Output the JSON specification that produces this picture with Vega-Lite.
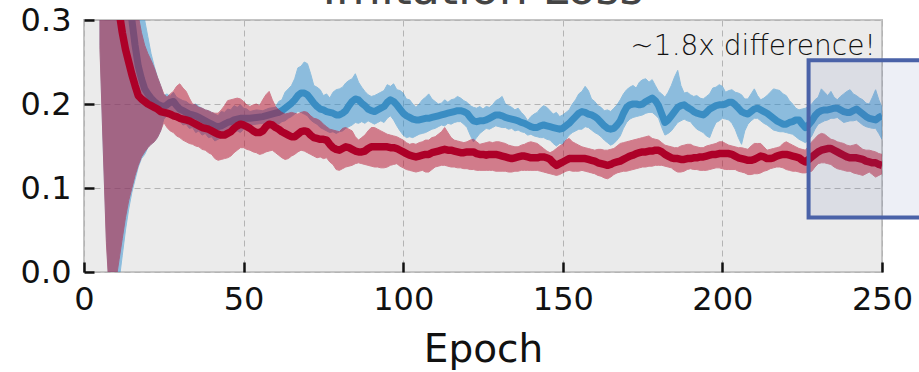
{
  "$schema": "https://vega.github.io/schema/vega-lite/v6.json",
  "autosize": {"type": "none"},
  "width": 798,
  "height": 252,
  "padding": {"left": 84, "top": 20, "right": 37, "bottom": 100},
  "background": "white",
  "config": {
    "view": {"fill": "#ebebeb", "stroke": "#c4c4c4", "strokeWidth": 2},
    "axis": {"labelFont": "DejaVu Sans", "labelFontSize": 32, "labelColor": "#111111", "labelFlush": false, "titleFont": "DejaVu Sans", "titleFontWeight": "normal", "titleColor": "#111111", "domain": false, "tickColor": "#111111", "tickWidth": 2.5, "tickSize": -10, "gridColor": "#b4b4b4", "gridDash": [6, 4], "gridWidth": 1}
  },
  "datasets": {
    "curves": [
      {"epoch":5,"s":"B","mean":0.60,"lo":0.27,"hi":0.95},{"epoch":6,"s":"B","mean":0.55,"lo":0.15,"hi":0.9},{"epoch":7,"s":"B","mean":0.50,"lo":0.04,"hi":0.9},{"epoch":8,"s":"B","mean":0.47,"lo":-0.03,"hi":0.9},{"epoch":9,"s":"B","mean":0.44,"lo":-0.05,"hi":0.88},{"epoch":10,"s":"B","mean":0.41,"lo":-0.04,"hi":0.85},{"epoch":11,"s":"B","mean":0.38,"lo":-0.01,"hi":0.8},{"epoch":12,"s":"B","mean":0.35,"lo":0.02,"hi":0.75},{"epoch":13,"s":"B","mean":0.33,"lo":0.05,"hi":0.65},{"epoch":14,"s":"B","mean":0.315,"lo":0.075,"hi":0.55},{"epoch":15,"s":"B","mean":0.30,"lo":0.095,"hi":0.45},{"epoch":16,"s":"B","mean":0.27,"lo":0.11,"hi":0.38},{"epoch":17,"s":"B","mean":0.245,"lo":0.125,"hi":0.33},{"epoch":18,"s":"B","mean":0.23,"lo":0.135,"hi":0.31},{"epoch":19,"s":"B","mean":0.218,"lo":0.14,"hi":0.30},{"epoch":20,"s":"B","mean":0.212,"lo":0.148,"hi":0.28},{"epoch":21,"s":"B","mean":0.207,"lo":0.152,"hi":0.26},{"epoch":22,"s":"B","mean":0.203,"lo":0.155,"hi":0.245},{"epoch":23,"s":"B","mean":0.200,"lo":0.16,"hi":0.232},{"epoch":24,"s":"B","mean":0.198,"lo":0.168,"hi":0.222},{"epoch":25,"s":"B","mean":0.197,"lo":0.182,"hi":0.21},{"epoch":26,"s":"B","mean":0.199,"lo":0.186,"hi":0.212},{"epoch":27,"s":"B","mean":0.202,"lo":0.191,"hi":0.209},{"epoch":28,"s":"B","mean":0.203,"lo":0.19,"hi":0.214},{"epoch":29,"s":"B","mean":0.198,"lo":0.183,"hi":0.208},{"epoch":30,"s":"B","mean":0.194,"lo":0.18,"hi":0.206},{"epoch":31,"s":"B","mean":0.192,"lo":0.175,"hi":0.204},{"epoch":32,"s":"B","mean":0.19,"lo":0.176,"hi":0.203},{"epoch":33,"s":"B","mean":0.188,"lo":0.171,"hi":0.2},{"epoch":34,"s":"B","mean":0.187,"lo":0.172,"hi":0.199},{"epoch":35,"s":"B","mean":0.186,"lo":0.166,"hi":0.2},{"epoch":36,"s":"B","mean":0.184,"lo":0.168,"hi":0.197},{"epoch":37,"s":"B","mean":0.182,"lo":0.163,"hi":0.195},{"epoch":38,"s":"B","mean":0.180,"lo":0.165,"hi":0.193},{"epoch":39,"s":"B","mean":0.178,"lo":0.16,"hi":0.192},{"epoch":40,"s":"B","mean":0.176,"lo":0.161,"hi":0.19},{"epoch":41,"s":"B","mean":0.174,"lo":0.156,"hi":0.188},{"epoch":42,"s":"B","mean":0.173,"lo":0.158,"hi":0.186},{"epoch":43,"s":"B","mean":0.174,"lo":0.16,"hi":0.191},{"epoch":44,"s":"B","mean":0.176,"lo":0.162,"hi":0.19},{"epoch":45,"s":"B","mean":0.178,"lo":0.161,"hi":0.194},{"epoch":46,"s":"B","mean":0.179,"lo":0.165,"hi":0.193},{"epoch":47,"s":"B","mean":0.181,"lo":0.166,"hi":0.198},{"epoch":48,"s":"B","mean":0.182,"lo":0.168,"hi":0.196},{"epoch":49,"s":"B","mean":0.183,"lo":0.166,"hi":0.199},{"epoch":50,"s":"B","mean":0.183,"lo":0.17,"hi":0.195},{"epoch":51,"s":"B","mean":0.183,"lo":0.172,"hi":0.194},{"epoch":52,"s":"B","mean":0.183,"lo":0.175,"hi":0.191},{"epoch":54,"s":"B","mean":0.184,"lo":0.176,"hi":0.193},{"epoch":56,"s":"B","mean":0.185,"lo":0.177,"hi":0.192},{"epoch":58,"s":"B","mean":0.187,"lo":0.178,"hi":0.195},{"epoch":60,"s":"B","mean":0.189,"lo":0.178,"hi":0.196},{"epoch":61,"s":"B","mean":0.19,"lo":0.176,"hi":0.203},{"epoch":62,"s":"B","mean":0.192,"lo":0.179,"hi":0.205},{"epoch":63,"s":"B","mean":0.195,"lo":0.18,"hi":0.214},{"epoch":64,"s":"B","mean":0.198,"lo":0.183,"hi":0.218},{"epoch":65,"s":"B","mean":0.201,"lo":0.185,"hi":0.222},{"epoch":66,"s":"B","mean":0.205,"lo":0.188,"hi":0.23},{"epoch":67,"s":"B","mean":0.21,"lo":0.191,"hi":0.243},{"epoch":68,"s":"B","mean":0.213,"lo":0.19,"hi":0.245},{"epoch":69,"s":"B","mean":0.213,"lo":0.188,"hi":0.25},{"epoch":70,"s":"B","mean":0.211,"lo":0.186,"hi":0.248},{"epoch":71,"s":"B","mean":0.206,"lo":0.181,"hi":0.236},{"epoch":72,"s":"B","mean":0.201,"lo":0.178,"hi":0.222},{"epoch":73,"s":"B","mean":0.197,"lo":0.176,"hi":0.22},{"epoch":74,"s":"B","mean":0.194,"lo":0.172,"hi":0.217},{"epoch":75,"s":"B","mean":0.193,"lo":0.17,"hi":0.21},{"epoch":76,"s":"B","mean":0.191,"lo":0.168,"hi":0.212},{"epoch":77,"s":"B","mean":0.19,"lo":0.166,"hi":0.207},{"epoch":78,"s":"B","mean":0.189,"lo":0.167,"hi":0.214},{"epoch":79,"s":"B","mean":0.187,"lo":0.165,"hi":0.217},{"epoch":80,"s":"B","mean":0.187,"lo":0.167,"hi":0.218},{"epoch":81,"s":"B","mean":0.189,"lo":0.168,"hi":0.22},{"epoch":82,"s":"B","mean":0.192,"lo":0.171,"hi":0.225},{"epoch":83,"s":"B","mean":0.198,"lo":0.173,"hi":0.228},{"epoch":84,"s":"B","mean":0.203,"lo":0.175,"hi":0.23},{"epoch":85,"s":"B","mean":0.206,"lo":0.178,"hi":0.236},{"epoch":86,"s":"B","mean":0.205,"lo":0.177,"hi":0.226},{"epoch":87,"s":"B","mean":0.201,"lo":0.179,"hi":0.22},{"epoch":88,"s":"B","mean":0.198,"lo":0.177,"hi":0.215},{"epoch":89,"s":"B","mean":0.194,"lo":0.18,"hi":0.211},{"epoch":90,"s":"B","mean":0.192,"lo":0.178,"hi":0.209},{"epoch":91,"s":"B","mean":0.191,"lo":0.176,"hi":0.21},{"epoch":92,"s":"B","mean":0.193,"lo":0.178,"hi":0.212},{"epoch":93,"s":"B","mean":0.195,"lo":0.18,"hi":0.214},{"epoch":94,"s":"B","mean":0.197,"lo":0.178,"hi":0.216},{"epoch":95,"s":"B","mean":0.202,"lo":0.183,"hi":0.223},{"epoch":96,"s":"B","mean":0.205,"lo":0.186,"hi":0.221},{"epoch":97,"s":"B","mean":0.203,"lo":0.181,"hi":0.224},{"epoch":98,"s":"B","mean":0.199,"lo":0.174,"hi":0.217},{"epoch":99,"s":"B","mean":0.194,"lo":0.168,"hi":0.216},{"epoch":100,"s":"B","mean":0.189,"lo":0.163,"hi":0.213},{"epoch":101,"s":"B","mean":0.186,"lo":0.16,"hi":0.206},{"epoch":102,"s":"B","mean":0.184,"lo":0.161,"hi":0.205},{"epoch":103,"s":"B","mean":0.182,"lo":0.16,"hi":0.2},{"epoch":104,"s":"B","mean":0.181,"lo":0.162,"hi":0.196},{"epoch":105,"s":"B","mean":0.181,"lo":0.164,"hi":0.2},{"epoch":106,"s":"B","mean":0.182,"lo":0.165,"hi":0.205},{"epoch":107,"s":"B","mean":0.183,"lo":0.166,"hi":0.208},{"epoch":108,"s":"B","mean":0.183,"lo":0.168,"hi":0.212},{"epoch":109,"s":"B","mean":0.184,"lo":0.17,"hi":0.206},{"epoch":110,"s":"B","mean":0.185,"lo":0.171,"hi":0.203},{"epoch":111,"s":"B","mean":0.186,"lo":0.173,"hi":0.2},{"epoch":112,"s":"B","mean":0.187,"lo":0.175,"hi":0.201},{"epoch":113,"s":"B","mean":0.188,"lo":0.174,"hi":0.205},{"epoch":114,"s":"B","mean":0.189,"lo":0.177,"hi":0.202},{"epoch":115,"s":"B","mean":0.19,"lo":0.176,"hi":0.205},{"epoch":116,"s":"B","mean":0.191,"lo":0.178,"hi":0.206},{"epoch":117,"s":"B","mean":0.192,"lo":0.179,"hi":0.209},{"epoch":118,"s":"B","mean":0.192,"lo":0.179,"hi":0.207},{"epoch":119,"s":"B","mean":0.191,"lo":0.176,"hi":0.204},{"epoch":120,"s":"B","mean":0.189,"lo":0.172,"hi":0.202},{"epoch":121,"s":"B","mean":0.184,"lo":0.163,"hi":0.198},{"epoch":122,"s":"B","mean":0.180,"lo":0.155,"hi":0.196},{"epoch":123,"s":"B","mean":0.179,"lo":0.16,"hi":0.195},{"epoch":124,"s":"B","mean":0.180,"lo":0.165,"hi":0.197},{"epoch":125,"s":"B","mean":0.18,"lo":0.168,"hi":0.194},{"epoch":126,"s":"B","mean":0.181,"lo":0.171,"hi":0.197},{"epoch":127,"s":"B","mean":0.183,"lo":0.17,"hi":0.196},{"epoch":128,"s":"B","mean":0.185,"lo":0.172,"hi":0.199},{"epoch":129,"s":"B","mean":0.187,"lo":0.174,"hi":0.204},{"epoch":130,"s":"B","mean":0.187,"lo":0.173,"hi":0.206},{"epoch":131,"s":"B","mean":0.186,"lo":0.172,"hi":0.209},{"epoch":132,"s":"B","mean":0.184,"lo":0.172,"hi":0.2},{"epoch":133,"s":"B","mean":0.183,"lo":0.17,"hi":0.198},{"epoch":134,"s":"B","mean":0.182,"lo":0.171,"hi":0.196},{"epoch":135,"s":"B","mean":0.181,"lo":0.168,"hi":0.193},{"epoch":136,"s":"B","mean":0.180,"lo":0.169,"hi":0.195},{"epoch":137,"s":"B","mean":0.178,"lo":0.167,"hi":0.19},{"epoch":138,"s":"B","mean":0.177,"lo":0.166,"hi":0.186},{"epoch":139,"s":"B","mean":0.175,"lo":0.163,"hi":0.18},{"epoch":140,"s":"B","mean":0.173,"lo":0.164,"hi":0.185},{"epoch":141,"s":"B","mean":0.172,"lo":0.162,"hi":0.188},{"epoch":142,"s":"B","mean":0.172,"lo":0.161,"hi":0.19},{"epoch":143,"s":"B","mean":0.174,"lo":0.16,"hi":0.195},{"epoch":144,"s":"B","mean":0.175,"lo":0.16,"hi":0.198},{"epoch":145,"s":"B","mean":0.174,"lo":0.158,"hi":0.196},{"epoch":146,"s":"B","mean":0.173,"lo":0.157,"hi":0.192},{"epoch":147,"s":"B","mean":0.172,"lo":0.153,"hi":0.188},{"epoch":148,"s":"B","mean":0.171,"lo":0.15,"hi":0.19},{"epoch":149,"s":"B","mean":0.17,"lo":0.153,"hi":0.185},{"epoch":150,"s":"B","mean":0.171,"lo":0.152,"hi":0.187},{"epoch":151,"s":"B","mean":0.174,"lo":0.158,"hi":0.19},{"epoch":152,"s":"B","mean":0.177,"lo":0.163,"hi":0.193},{"epoch":153,"s":"B","mean":0.181,"lo":0.166,"hi":0.2},{"epoch":154,"s":"B","mean":0.185,"lo":0.168,"hi":0.205},{"epoch":155,"s":"B","mean":0.189,"lo":0.17,"hi":0.212},{"epoch":156,"s":"B","mean":0.191,"lo":0.17,"hi":0.215},{"epoch":157,"s":"B","mean":0.19,"lo":0.173,"hi":0.221},{"epoch":158,"s":"B","mean":0.188,"lo":0.172,"hi":0.216},{"epoch":159,"s":"B","mean":0.187,"lo":0.169,"hi":0.206},{"epoch":160,"s":"B","mean":0.185,"lo":0.166,"hi":0.203},{"epoch":161,"s":"B","mean":0.182,"lo":0.164,"hi":0.198},{"epoch":162,"s":"B","mean":0.178,"lo":0.161,"hi":0.196},{"epoch":163,"s":"B","mean":0.174,"lo":0.157,"hi":0.192},{"epoch":164,"s":"B","mean":0.171,"lo":0.154,"hi":0.193},{"epoch":165,"s":"B","mean":0.17,"lo":0.151,"hi":0.191},{"epoch":166,"s":"B","mean":0.171,"lo":0.153,"hi":0.195},{"epoch":167,"s":"B","mean":0.175,"lo":0.157,"hi":0.199},{"epoch":168,"s":"B","mean":0.180,"lo":0.162,"hi":0.205},{"epoch":169,"s":"B","mean":0.189,"lo":0.171,"hi":0.212},{"epoch":170,"s":"B","mean":0.196,"lo":0.178,"hi":0.217},{"epoch":171,"s":"B","mean":0.199,"lo":0.182,"hi":0.22},{"epoch":172,"s":"B","mean":0.200,"lo":0.184,"hi":0.222},{"epoch":173,"s":"B","mean":0.2,"lo":0.185,"hi":0.219},{"epoch":174,"s":"B","mean":0.199,"lo":0.186,"hi":0.226},{"epoch":175,"s":"B","mean":0.2,"lo":0.187,"hi":0.229},{"epoch":176,"s":"B","mean":0.203,"lo":0.189,"hi":0.23},{"epoch":177,"s":"B","mean":0.205,"lo":0.19,"hi":0.226},{"epoch":178,"s":"B","mean":0.207,"lo":0.19,"hi":0.229},{"epoch":179,"s":"B","mean":0.204,"lo":0.187,"hi":0.222},{"epoch":180,"s":"B","mean":0.198,"lo":0.183,"hi":0.215},{"epoch":181,"s":"B","mean":0.188,"lo":0.172,"hi":0.212},{"epoch":182,"s":"B","mean":0.178,"lo":0.163,"hi":0.208},{"epoch":183,"s":"B","mean":0.181,"lo":0.165,"hi":0.214},{"epoch":184,"s":"B","mean":0.186,"lo":0.168,"hi":0.222},{"epoch":185,"s":"B","mean":0.191,"lo":0.173,"hi":0.232},{"epoch":186,"s":"B","mean":0.196,"lo":0.178,"hi":0.24},{"epoch":187,"s":"B","mean":0.198,"lo":0.18,"hi":0.222},{"epoch":188,"s":"B","mean":0.199,"lo":0.182,"hi":0.213},{"epoch":189,"s":"B","mean":0.196,"lo":0.18,"hi":0.214},{"epoch":190,"s":"B","mean":0.194,"lo":0.179,"hi":0.211},{"epoch":191,"s":"B","mean":0.191,"lo":0.174,"hi":0.209},{"epoch":192,"s":"B","mean":0.189,"lo":0.17,"hi":0.21},{"epoch":193,"s":"B","mean":0.188,"lo":0.168,"hi":0.207},{"epoch":194,"s":"B","mean":0.187,"lo":0.166,"hi":0.206},{"epoch":195,"s":"B","mean":0.19,"lo":0.162,"hi":0.209},{"epoch":196,"s":"B","mean":0.194,"lo":0.16,"hi":0.212},{"epoch":197,"s":"B","mean":0.196,"lo":0.17,"hi":0.219},{"epoch":198,"s":"B","mean":0.198,"lo":0.178,"hi":0.22},{"epoch":199,"s":"B","mean":0.199,"lo":0.18,"hi":0.223},{"epoch":200,"s":"B","mean":0.199,"lo":0.183,"hi":0.221},{"epoch":201,"s":"B","mean":0.2,"lo":0.182,"hi":0.214},{"epoch":202,"s":"B","mean":0.202,"lo":0.181,"hi":0.216},{"epoch":203,"s":"B","mean":0.202,"lo":0.177,"hi":0.217},{"epoch":204,"s":"B","mean":0.199,"lo":0.17,"hi":0.214},{"epoch":205,"s":"B","mean":0.195,"lo":0.16,"hi":0.213},{"epoch":206,"s":"B","mean":0.191,"lo":0.152,"hi":0.211},{"epoch":207,"s":"B","mean":0.189,"lo":0.168,"hi":0.206},{"epoch":208,"s":"B","mean":0.188,"lo":0.176,"hi":0.206},{"epoch":209,"s":"B","mean":0.191,"lo":0.18,"hi":0.212},{"epoch":210,"s":"B","mean":0.194,"lo":0.183,"hi":0.218},{"epoch":211,"s":"B","mean":0.195,"lo":0.183,"hi":0.21},{"epoch":212,"s":"B","mean":0.193,"lo":0.18,"hi":0.205},{"epoch":213,"s":"B","mean":0.191,"lo":0.177,"hi":0.207},{"epoch":214,"s":"B","mean":0.189,"lo":0.175,"hi":0.21},{"epoch":215,"s":"B","mean":0.186,"lo":0.172,"hi":0.214},{"epoch":216,"s":"B","mean":0.183,"lo":0.169,"hi":0.218},{"epoch":217,"s":"B","mean":0.18,"lo":0.168,"hi":0.217},{"epoch":218,"s":"B","mean":0.178,"lo":0.167,"hi":0.216},{"epoch":219,"s":"B","mean":0.176,"lo":0.167,"hi":0.212},{"epoch":220,"s":"B","mean":0.176,"lo":0.166,"hi":0.21},{"epoch":221,"s":"B","mean":0.178,"lo":0.165,"hi":0.204},{"epoch":222,"s":"B","mean":0.179,"lo":0.164,"hi":0.2},{"epoch":223,"s":"B","mean":0.181,"lo":0.161,"hi":0.195},{"epoch":224,"s":"B","mean":0.181,"lo":0.158,"hi":0.193},{"epoch":225,"s":"B","mean":0.176,"lo":0.156,"hi":0.194},{"epoch":226,"s":"B","mean":0.172,"lo":0.154,"hi":0.195},{"epoch":227,"s":"B","mean":0.175,"lo":0.157,"hi":0.197},{"epoch":228,"s":"B","mean":0.180,"lo":0.162,"hi":0.2},{"epoch":229,"s":"B","mean":0.186,"lo":0.17,"hi":0.205},{"epoch":230,"s":"B","mean":0.190,"lo":0.176,"hi":0.208},{"epoch":231,"s":"B","mean":0.192,"lo":0.178,"hi":0.218},{"epoch":232,"s":"B","mean":0.193,"lo":0.18,"hi":0.214},{"epoch":233,"s":"B","mean":0.193,"lo":0.181,"hi":0.21},{"epoch":234,"s":"B","mean":0.194,"lo":0.183,"hi":0.215},{"epoch":235,"s":"B","mean":0.195,"lo":0.183,"hi":0.208},{"epoch":236,"s":"B","mean":0.195,"lo":0.184,"hi":0.205},{"epoch":237,"s":"B","mean":0.193,"lo":0.181,"hi":0.209},{"epoch":238,"s":"B","mean":0.191,"lo":0.178,"hi":0.212},{"epoch":239,"s":"B","mean":0.19,"lo":0.179,"hi":0.215},{"epoch":240,"s":"B","mean":0.190,"lo":0.18,"hi":0.217},{"epoch":241,"s":"B","mean":0.192,"lo":0.18,"hi":0.212},{"epoch":242,"s":"B","mean":0.194,"lo":0.181,"hi":0.21},{"epoch":243,"s":"B","mean":0.191,"lo":0.178,"hi":0.207},{"epoch":244,"s":"B","mean":0.188,"lo":0.175,"hi":0.205},{"epoch":245,"s":"B","mean":0.185,"lo":0.173,"hi":0.201},{"epoch":246,"s":"B","mean":0.183,"lo":0.172,"hi":0.2},{"epoch":247,"s":"B","mean":0.182,"lo":0.171,"hi":0.208},{"epoch":248,"s":"B","mean":0.181,"lo":0.171,"hi":0.217},{"epoch":249,"s":"B","mean":0.184,"lo":0.165,"hi":0.205},{"epoch":250,"s":"B","mean":0.186,"lo":0.158,"hi":0.196},
      {"epoch":5,"s":"R","mean":0.60,"lo":0.265,"hi":0.95},{"epoch":6,"s":"R","mean":0.55,"lo":0.15,"hi":0.9},{"epoch":7,"s":"R","mean":0.50,"lo":0.035,"hi":0.9},{"epoch":8,"s":"R","mean":0.45,"lo":-0.03,"hi":0.9},{"epoch":9,"s":"R","mean":0.40,"lo":-0.04,"hi":0.85},{"epoch":10,"s":"R","mean":0.35,"lo":-0.01,"hi":0.8},{"epoch":11,"s":"R","mean":0.31,"lo":0.015,"hi":0.7},{"epoch":12,"s":"R","mean":0.285,"lo":0.04,"hi":0.6},{"epoch":13,"s":"R","mean":0.265,"lo":0.065,"hi":0.5},{"epoch":14,"s":"R","mean":0.25,"lo":0.085,"hi":0.42},{"epoch":15,"s":"R","mean":0.235,"lo":0.1,"hi":0.37},{"epoch":16,"s":"R","mean":0.222,"lo":0.115,"hi":0.33},{"epoch":17,"s":"R","mean":0.21,"lo":0.127,"hi":0.305},{"epoch":18,"s":"R","mean":0.206,"lo":0.137,"hi":0.285},{"epoch":19,"s":"R","mean":0.203,"lo":0.143,"hi":0.27},{"epoch":20,"s":"R","mean":0.200,"lo":0.148,"hi":0.26},{"epoch":21,"s":"R","mean":0.198,"lo":0.152,"hi":0.252},{"epoch":22,"s":"R","mean":0.196,"lo":0.155,"hi":0.243},{"epoch":23,"s":"R","mean":0.194,"lo":0.16,"hi":0.232},{"epoch":24,"s":"R","mean":0.191,"lo":0.168,"hi":0.222},{"epoch":25,"s":"R","mean":0.190,"lo":0.178,"hi":0.212},{"epoch":26,"s":"R","mean":0.189,"lo":0.172,"hi":0.208},{"epoch":27,"s":"R","mean":0.188,"lo":0.168,"hi":0.212},{"epoch":28,"s":"R","mean":0.186,"lo":0.166,"hi":0.215},{"epoch":29,"s":"R","mean":0.185,"lo":0.162,"hi":0.221},{"epoch":30,"s":"R","mean":0.183,"lo":0.16,"hi":0.224},{"epoch":31,"s":"R","mean":0.182,"lo":0.157,"hi":0.219},{"epoch":32,"s":"R","mean":0.181,"lo":0.155,"hi":0.215},{"epoch":33,"s":"R","mean":0.18,"lo":0.153,"hi":0.207},{"epoch":34,"s":"R","mean":0.178,"lo":0.152,"hi":0.2},{"epoch":35,"s":"R","mean":0.176,"lo":0.15,"hi":0.199},{"epoch":36,"s":"R","mean":0.174,"lo":0.149,"hi":0.196},{"epoch":37,"s":"R","mean":0.172,"lo":0.146,"hi":0.195},{"epoch":38,"s":"R","mean":0.171,"lo":0.145,"hi":0.193},{"epoch":39,"s":"R","mean":0.17,"lo":0.142,"hi":0.192},{"epoch":40,"s":"R","mean":0.168,"lo":0.14,"hi":0.19},{"epoch":41,"s":"R","mean":0.166,"lo":0.135,"hi":0.189},{"epoch":42,"s":"R","mean":0.164,"lo":0.133,"hi":0.189},{"epoch":43,"s":"R","mean":0.163,"lo":0.134,"hi":0.193},{"epoch":44,"s":"R","mean":0.163,"lo":0.135,"hi":0.198},{"epoch":45,"s":"R","mean":0.165,"lo":0.136,"hi":0.204},{"epoch":46,"s":"R","mean":0.167,"lo":0.138,"hi":0.205},{"epoch":47,"s":"R","mean":0.171,"lo":0.142,"hi":0.206},{"epoch":48,"s":"R","mean":0.174,"lo":0.145,"hi":0.207},{"epoch":49,"s":"R","mean":0.176,"lo":0.148,"hi":0.206},{"epoch":50,"s":"R","mean":0.175,"lo":0.148,"hi":0.203},{"epoch":51,"s":"R","mean":0.173,"lo":0.146,"hi":0.199},{"epoch":52,"s":"R","mean":0.171,"lo":0.145,"hi":0.197},{"epoch":53,"s":"R","mean":0.168,"lo":0.143,"hi":0.199},{"epoch":54,"s":"R","mean":0.166,"lo":0.142,"hi":0.2},{"epoch":55,"s":"R","mean":0.166,"lo":0.14,"hi":0.198},{"epoch":56,"s":"R","mean":0.168,"lo":0.141,"hi":0.205},{"epoch":57,"s":"R","mean":0.173,"lo":0.143,"hi":0.211},{"epoch":58,"s":"R","mean":0.176,"lo":0.144,"hi":0.215},{"epoch":59,"s":"R","mean":0.175,"lo":0.145,"hi":0.205},{"epoch":60,"s":"R","mean":0.172,"lo":0.142,"hi":0.197},{"epoch":61,"s":"R","mean":0.17,"lo":0.139,"hi":0.193},{"epoch":62,"s":"R","mean":0.167,"lo":0.136,"hi":0.19},{"epoch":63,"s":"R","mean":0.165,"lo":0.134,"hi":0.188},{"epoch":64,"s":"R","mean":0.163,"lo":0.135,"hi":0.189},{"epoch":65,"s":"R","mean":0.161,"lo":0.138,"hi":0.19},{"epoch":66,"s":"R","mean":0.161,"lo":0.14,"hi":0.189},{"epoch":67,"s":"R","mean":0.164,"lo":0.143,"hi":0.188},{"epoch":68,"s":"R","mean":0.167,"lo":0.145,"hi":0.19},{"epoch":69,"s":"R","mean":0.168,"lo":0.144,"hi":0.191},{"epoch":70,"s":"R","mean":0.167,"lo":0.142,"hi":0.19},{"epoch":71,"s":"R","mean":0.163,"lo":0.14,"hi":0.186},{"epoch":72,"s":"R","mean":0.160,"lo":0.138,"hi":0.183},{"epoch":73,"s":"R","mean":0.159,"lo":0.136,"hi":0.182},{"epoch":74,"s":"R","mean":0.158,"lo":0.137,"hi":0.18},{"epoch":75,"s":"R","mean":0.158,"lo":0.135,"hi":0.176},{"epoch":76,"s":"R","mean":0.157,"lo":0.136,"hi":0.173},{"epoch":77,"s":"R","mean":0.152,"lo":0.131,"hi":0.17},{"epoch":78,"s":"R","mean":0.148,"lo":0.128,"hi":0.169},{"epoch":79,"s":"R","mean":0.146,"lo":0.122,"hi":0.168},{"epoch":80,"s":"R","mean":0.145,"lo":0.121,"hi":0.167},{"epoch":81,"s":"R","mean":0.147,"lo":0.123,"hi":0.171},{"epoch":82,"s":"R","mean":0.149,"lo":0.125,"hi":0.172},{"epoch":83,"s":"R","mean":0.148,"lo":0.126,"hi":0.17},{"epoch":84,"s":"R","mean":0.146,"lo":0.127,"hi":0.168},{"epoch":85,"s":"R","mean":0.144,"lo":0.129,"hi":0.161},{"epoch":86,"s":"R","mean":0.143,"lo":0.13,"hi":0.157},{"epoch":87,"s":"R","mean":0.143,"lo":0.129,"hi":0.16},{"epoch":88,"s":"R","mean":0.144,"lo":0.128,"hi":0.163},{"epoch":89,"s":"R","mean":0.147,"lo":0.127,"hi":0.168},{"epoch":90,"s":"R","mean":0.149,"lo":0.126,"hi":0.172},{"epoch":91,"s":"R","mean":0.149,"lo":0.125,"hi":0.172},{"epoch":92,"s":"R","mean":0.149,"lo":0.125,"hi":0.17},{"epoch":93,"s":"R","mean":0.149,"lo":0.124,"hi":0.168},{"epoch":94,"s":"R","mean":0.149,"lo":0.124,"hi":0.166},{"epoch":95,"s":"R","mean":0.149,"lo":0.125,"hi":0.164},{"epoch":96,"s":"R","mean":0.148,"lo":0.127,"hi":0.163},{"epoch":97,"s":"R","mean":0.148,"lo":0.128,"hi":0.162},{"epoch":98,"s":"R","mean":0.147,"lo":0.129,"hi":0.161},{"epoch":99,"s":"R","mean":0.145,"lo":0.126,"hi":0.159},{"epoch":100,"s":"R","mean":0.143,"lo":0.124,"hi":0.157},{"epoch":101,"s":"R","mean":0.141,"lo":0.122,"hi":0.154},{"epoch":102,"s":"R","mean":0.139,"lo":0.121,"hi":0.152},{"epoch":103,"s":"R","mean":0.138,"lo":0.12,"hi":0.153},{"epoch":104,"s":"R","mean":0.137,"lo":0.119,"hi":0.152},{"epoch":105,"s":"R","mean":0.138,"lo":0.12,"hi":0.154},{"epoch":106,"s":"R","mean":0.139,"lo":0.121,"hi":0.155},{"epoch":107,"s":"R","mean":0.14,"lo":0.119,"hi":0.157},{"epoch":108,"s":"R","mean":0.140,"lo":0.119,"hi":0.157},{"epoch":109,"s":"R","mean":0.142,"lo":0.122,"hi":0.16},{"epoch":110,"s":"R","mean":0.143,"lo":0.125,"hi":0.161},{"epoch":111,"s":"R","mean":0.144,"lo":0.126,"hi":0.164},{"epoch":112,"s":"R","mean":0.145,"lo":0.127,"hi":0.167},{"epoch":113,"s":"R","mean":0.146,"lo":0.127,"hi":0.172},{"epoch":114,"s":"R","mean":0.145,"lo":0.126,"hi":0.166},{"epoch":115,"s":"R","mean":0.145,"lo":0.125,"hi":0.16},{"epoch":116,"s":"R","mean":0.144,"lo":0.125,"hi":0.157},{"epoch":117,"s":"R","mean":0.143,"lo":0.124,"hi":0.156},{"epoch":118,"s":"R","mean":0.142,"lo":0.124,"hi":0.155},{"epoch":119,"s":"R","mean":0.142,"lo":0.123,"hi":0.154},{"epoch":120,"s":"R","mean":0.143,"lo":0.123,"hi":0.155},{"epoch":121,"s":"R","mean":0.143,"lo":0.122,"hi":0.157},{"epoch":122,"s":"R","mean":0.143,"lo":0.122,"hi":0.158},{"epoch":123,"s":"R","mean":0.141,"lo":0.121,"hi":0.155},{"epoch":124,"s":"R","mean":0.140,"lo":0.121,"hi":0.152},{"epoch":125,"s":"R","mean":0.14,"lo":0.121,"hi":0.153},{"epoch":126,"s":"R","mean":0.139,"lo":0.121,"hi":0.154},{"epoch":127,"s":"R","mean":0.14,"lo":0.121,"hi":0.155},{"epoch":128,"s":"R","mean":0.140,"lo":0.121,"hi":0.154},{"epoch":129,"s":"R","mean":0.14,"lo":0.12,"hi":0.155},{"epoch":130,"s":"R","mean":0.139,"lo":0.12,"hi":0.155},{"epoch":131,"s":"R","mean":0.138,"lo":0.12,"hi":0.154},{"epoch":132,"s":"R","mean":0.137,"lo":0.12,"hi":0.153},{"epoch":133,"s":"R","mean":0.136,"lo":0.119,"hi":0.151},{"epoch":134,"s":"R","mean":0.135,"lo":0.119,"hi":0.15},{"epoch":135,"s":"R","mean":0.136,"lo":0.12,"hi":0.149},{"epoch":136,"s":"R","mean":0.137,"lo":0.12,"hi":0.149},{"epoch":137,"s":"R","mean":0.138,"lo":0.121,"hi":0.151},{"epoch":138,"s":"R","mean":0.138,"lo":0.121,"hi":0.152},{"epoch":139,"s":"R","mean":0.137,"lo":0.121,"hi":0.154},{"epoch":140,"s":"R","mean":0.136,"lo":0.121,"hi":0.155},{"epoch":141,"s":"R","mean":0.136,"lo":0.121,"hi":0.154},{"epoch":142,"s":"R","mean":0.136,"lo":0.121,"hi":0.153},{"epoch":143,"s":"R","mean":0.137,"lo":0.12,"hi":0.15},{"epoch":144,"s":"R","mean":0.137,"lo":0.119,"hi":0.147},{"epoch":145,"s":"R","mean":0.136,"lo":0.118,"hi":0.144},{"epoch":146,"s":"R","mean":0.134,"lo":0.117,"hi":0.142},{"epoch":147,"s":"R","mean":0.13,"lo":0.116,"hi":0.144},{"epoch":148,"s":"R","mean":0.127,"lo":0.115,"hi":0.147},{"epoch":149,"s":"R","mean":0.129,"lo":0.116,"hi":0.15},{"epoch":150,"s":"R","mean":0.131,"lo":0.118,"hi":0.152},{"epoch":151,"s":"R","mean":0.133,"lo":0.12,"hi":0.157},{"epoch":152,"s":"R","mean":0.135,"lo":0.121,"hi":0.159},{"epoch":153,"s":"R","mean":0.135,"lo":0.12,"hi":0.155},{"epoch":154,"s":"R","mean":0.135,"lo":0.12,"hi":0.153},{"epoch":155,"s":"R","mean":0.135,"lo":0.12,"hi":0.151},{"epoch":156,"s":"R","mean":0.135,"lo":0.121,"hi":0.149},{"epoch":157,"s":"R","mean":0.135,"lo":0.12,"hi":0.148},{"epoch":158,"s":"R","mean":0.134,"lo":0.119,"hi":0.147},{"epoch":159,"s":"R","mean":0.133,"lo":0.118,"hi":0.146},{"epoch":160,"s":"R","mean":0.132,"lo":0.117,"hi":0.145},{"epoch":161,"s":"R","mean":0.13,"lo":0.115,"hi":0.146},{"epoch":162,"s":"R","mean":0.129,"lo":0.114,"hi":0.146},{"epoch":163,"s":"R","mean":0.128,"lo":0.112,"hi":0.145},{"epoch":164,"s":"R","mean":0.127,"lo":0.111,"hi":0.145},{"epoch":165,"s":"R","mean":0.128,"lo":0.113,"hi":0.146},{"epoch":166,"s":"R","mean":0.130,"lo":0.116,"hi":0.147},{"epoch":167,"s":"R","mean":0.131,"lo":0.118,"hi":0.15},{"epoch":168,"s":"R","mean":0.132,"lo":0.119,"hi":0.153},{"epoch":169,"s":"R","mean":0.134,"lo":0.12,"hi":0.154},{"epoch":170,"s":"R","mean":0.136,"lo":0.12,"hi":0.155},{"epoch":171,"s":"R","mean":0.138,"lo":0.121,"hi":0.156},{"epoch":172,"s":"R","mean":0.139,"lo":0.122,"hi":0.157},{"epoch":173,"s":"R","mean":0.141,"lo":0.123,"hi":0.158},{"epoch":174,"s":"R","mean":0.142,"lo":0.124,"hi":0.159},{"epoch":175,"s":"R","mean":0.143,"lo":0.125,"hi":0.16},{"epoch":176,"s":"R","mean":0.143,"lo":0.125,"hi":0.161},{"epoch":177,"s":"R","mean":0.144,"lo":0.126,"hi":0.162},{"epoch":178,"s":"R","mean":0.144,"lo":0.126,"hi":0.159},{"epoch":179,"s":"R","mean":0.145,"lo":0.127,"hi":0.158},{"epoch":180,"s":"R","mean":0.145,"lo":0.127,"hi":0.157},{"epoch":181,"s":"R","mean":0.143,"lo":0.127,"hi":0.154},{"epoch":182,"s":"R","mean":0.140,"lo":0.126,"hi":0.151},{"epoch":183,"s":"R","mean":0.138,"lo":0.125,"hi":0.15},{"epoch":184,"s":"R","mean":0.136,"lo":0.124,"hi":0.149},{"epoch":185,"s":"R","mean":0.135,"lo":0.121,"hi":0.148},{"epoch":186,"s":"R","mean":0.135,"lo":0.119,"hi":0.148},{"epoch":187,"s":"R","mean":0.134,"lo":0.119,"hi":0.15},{"epoch":188,"s":"R","mean":0.134,"lo":0.12,"hi":0.151},{"epoch":189,"s":"R","mean":0.135,"lo":0.122,"hi":0.152},{"epoch":190,"s":"R","mean":0.135,"lo":0.123,"hi":0.152},{"epoch":191,"s":"R","mean":0.136,"lo":0.122,"hi":0.15},{"epoch":192,"s":"R","mean":0.136,"lo":0.122,"hi":0.149},{"epoch":193,"s":"R","mean":0.137,"lo":0.121,"hi":0.148},{"epoch":194,"s":"R","mean":0.137,"lo":0.121,"hi":0.148},{"epoch":195,"s":"R","mean":0.138,"lo":0.121,"hi":0.15},{"epoch":196,"s":"R","mean":0.139,"lo":0.122,"hi":0.151},{"epoch":197,"s":"R","mean":0.14,"lo":0.123,"hi":0.152},{"epoch":198,"s":"R","mean":0.140,"lo":0.124,"hi":0.153},{"epoch":199,"s":"R","mean":0.141,"lo":0.124,"hi":0.155},{"epoch":200,"s":"R","mean":0.141,"lo":0.123,"hi":0.155},{"epoch":201,"s":"R","mean":0.141,"lo":0.122,"hi":0.153},{"epoch":202,"s":"R","mean":0.141,"lo":0.122,"hi":0.151},{"epoch":203,"s":"R","mean":0.14,"lo":0.122,"hi":0.15},{"epoch":204,"s":"R","mean":0.138,"lo":0.122,"hi":0.149},{"epoch":205,"s":"R","mean":0.136,"lo":0.12,"hi":0.148},{"epoch":206,"s":"R","mean":0.135,"lo":0.119,"hi":0.148},{"epoch":207,"s":"R","mean":0.134,"lo":0.118,"hi":0.147},{"epoch":208,"s":"R","mean":0.133,"lo":0.116,"hi":0.146},{"epoch":209,"s":"R","mean":0.133,"lo":0.116,"hi":0.15},{"epoch":210,"s":"R","mean":0.134,"lo":0.117,"hi":0.153},{"epoch":211,"s":"R","mean":0.136,"lo":0.117,"hi":0.153},{"epoch":212,"s":"R","mean":0.138,"lo":0.118,"hi":0.153},{"epoch":213,"s":"R","mean":0.137,"lo":0.12,"hi":0.149},{"epoch":214,"s":"R","mean":0.135,"lo":0.121,"hi":0.145},{"epoch":215,"s":"R","mean":0.135,"lo":0.123,"hi":0.146},{"epoch":216,"s":"R","mean":0.136,"lo":0.124,"hi":0.147},{"epoch":217,"s":"R","mean":0.138,"lo":0.125,"hi":0.148},{"epoch":218,"s":"R","mean":0.139,"lo":0.125,"hi":0.149},{"epoch":219,"s":"R","mean":0.14,"lo":0.124,"hi":0.153},{"epoch":220,"s":"R","mean":0.140,"lo":0.122,"hi":0.155},{"epoch":221,"s":"R","mean":0.139,"lo":0.121,"hi":0.153},{"epoch":222,"s":"R","mean":0.138,"lo":0.12,"hi":0.151},{"epoch":223,"s":"R","mean":0.137,"lo":0.12,"hi":0.149},{"epoch":224,"s":"R","mean":0.136,"lo":0.119,"hi":0.147},{"epoch":225,"s":"R","mean":0.133,"lo":0.118,"hi":0.146},{"epoch":226,"s":"R","mean":0.131,"lo":0.118,"hi":0.145},{"epoch":227,"s":"R","mean":0.134,"lo":0.119,"hi":0.15},{"epoch":228,"s":"R","mean":0.137,"lo":0.12,"hi":0.155},{"epoch":229,"s":"R","mean":0.14,"lo":0.125,"hi":0.159},{"epoch":230,"s":"R","mean":0.143,"lo":0.129,"hi":0.163},{"epoch":231,"s":"R","mean":0.145,"lo":0.13,"hi":0.165},{"epoch":232,"s":"R","mean":0.146,"lo":0.13,"hi":0.164},{"epoch":233,"s":"R","mean":0.147,"lo":0.129,"hi":0.161},{"epoch":234,"s":"R","mean":0.147,"lo":0.128,"hi":0.158},{"epoch":235,"s":"R","mean":0.145,"lo":0.125,"hi":0.157},{"epoch":236,"s":"R","mean":0.143,"lo":0.123,"hi":0.155},{"epoch":237,"s":"R","mean":0.141,"lo":0.122,"hi":0.154},{"epoch":238,"s":"R","mean":0.139,"lo":0.121,"hi":0.153},{"epoch":239,"s":"R","mean":0.137,"lo":0.12,"hi":0.151},{"epoch":240,"s":"R","mean":0.136,"lo":0.12,"hi":0.15},{"epoch":241,"s":"R","mean":0.136,"lo":0.118,"hi":0.151},{"epoch":242,"s":"R","mean":0.136,"lo":0.117,"hi":0.152},{"epoch":243,"s":"R","mean":0.135,"lo":0.116,"hi":0.149},{"epoch":244,"s":"R","mean":0.134,"lo":0.115,"hi":0.146},{"epoch":245,"s":"R","mean":0.132,"lo":0.117,"hi":0.145},{"epoch":246,"s":"R","mean":0.131,"lo":0.119,"hi":0.145},{"epoch":247,"s":"R","mean":0.13,"lo":0.116,"hi":0.144},{"epoch":248,"s":"R","mean":0.130,"lo":0.113,"hi":0.143},{"epoch":249,"s":"R","mean":0.128,"lo":0.115,"hi":0.141},{"epoch":250,"s":"R","mean":0.127,"lo":0.117,"hi":0.14}
    ]
  },
  "layer": [
    {
      "data": {"name": "curves"},
      "transform": [{"filter": "datum.s === 'B'"}],
      "mark": {"type": "area", "clip": true, "color": "#2f8fd0", "opacity": 0.5, "stroke": "#2f8fd0", "strokeWidth": 1},
      "encoding": {
        "x": {"field": "epoch", "type": "quantitative", "scale": {"domain": [0, 250], "nice": false}, "axis": {"values": [0, 50, 100, 150, 200, 250], "title": "Epoch", "titleFontSize": 39, "titlePadding": 15, "labelPadding": 22, "grid": true}},
        "y": {"field": "lo", "type": "quantitative", "scale": {"domain": [0, 0.3], "nice": false, "zero": false}, "axis": {"values": [0, 0.1, 0.2, 0.3], "format": ".1f", "title": null, "labelPadding": 23, "grid": true}},
        "y2": {"field": "hi"}
      }
    },
    {
      "data": {"name": "curves"},
      "transform": [{"filter": "datum.s === 'B'"}],
      "mark": {"type": "line", "clip": true, "color": "#3a8dc3", "strokeWidth": 7, "strokeJoin": "round"},
      "encoding": {
        "x": {"field": "epoch", "type": "quantitative"},
        "y": {"field": "mean", "type": "quantitative"}
      }
    },
    {
      "data": {"name": "curves"},
      "transform": [{"filter": "datum.s === 'R'"}],
      "mark": {"type": "area", "clip": true, "color": "#b8102e", "opacity": 0.5, "stroke": "#b8102e", "strokeWidth": 1},
      "encoding": {
        "x": {"field": "epoch", "type": "quantitative"},
        "y": {"field": "lo", "type": "quantitative"},
        "y2": {"field": "hi"}
      }
    },
    {
      "data": {"name": "curves"},
      "transform": [{"filter": "datum.s === 'R'"}],
      "mark": {"type": "line", "clip": true, "color": "#ad0028", "strokeWidth": 7.5, "strokeJoin": "round"},
      "encoding": {
        "x": {"field": "epoch", "type": "quantitative"},
        "y": {"field": "mean", "type": "quantitative"}
      }
    },
    {
      "data": {"values": [{"x0": 227, "x1": 265, "y0": 0.065, "y1": 0.252}]},
      "mark": {"type": "rect", "clip": false, "fill": "#4a62a8", "fillOpacity": 0.1, "stroke": "#4a62a8", "strokeWidth": 4},
      "encoding": {
        "x": {"field": "x0", "type": "quantitative"},
        "x2": {"field": "x1"},
        "y": {"field": "y0", "type": "quantitative"},
        "y2": {"field": "y1"}
      }
    },
    {
      "data": {"values": [{"x": 248, "y": 0.258, "label": "~1.8x difference!"}]},
      "mark": {"type": "text", "align": "right", "baseline": "alphabetic", "font": "DejaVu Sans", "fontWeight": 200, "fontSize": 28, "color": "#111111"},
      "encoding": {
        "x": {"field": "x", "type": "quantitative"},
        "y": {"field": "y", "type": "quantitative"},
        "text": {"field": "label"}
      }
    },
    {
      "data": {"values": [{"x": 125, "y": 0.3185, "label": "Imitation Loss"}]},
      "mark": {"type": "text", "clip": false, "align": "center", "baseline": "alphabetic", "font": "DejaVu Sans", "fontSize": 46, "color": "#444444"},
      "encoding": {
        "x": {"field": "x", "type": "quantitative"},
        "y": {"field": "y", "type": "quantitative"},
        "text": {"field": "label"}
      }
    }
  ]
}
